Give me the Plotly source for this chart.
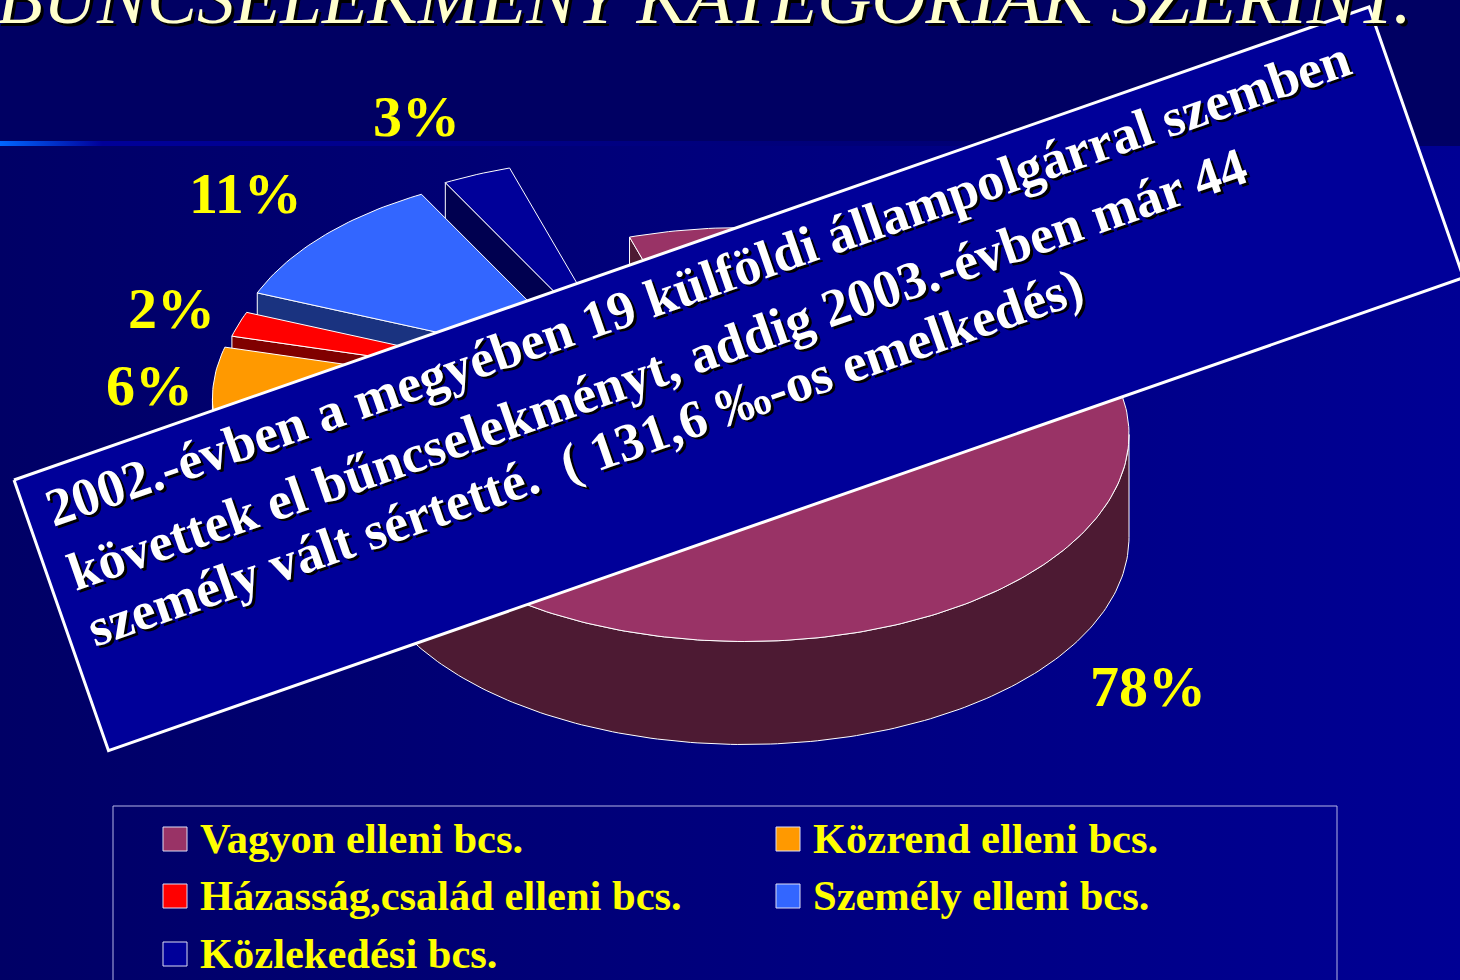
import math
import plotly.graph_objects as go

# ---- data ----
categories = ["Vagyon elleni bcs.", "Közrend elleni bcs.", "Házasság,család elleni bcs.",
              "Személy elleni bcs.", "Közlekedési bcs."]
values = [78, 6, 2, 11, 3]
top_colors = ["#993366", "#FF9900", "#FF0000", "#3366FF", "#000099"]
wall_colors = ["#4D1A33", "#804D00", "#800000", "#1A3380", "#000050"]
title_text = "BŰNCSELEKMÉNY KATEGÓRIÁK SZERINT."
banner_lines = ["2002.-évben a megyében 19 külföldi állampolgárral szemben",
                "követtek el bűncselekményt, addig 2003.-évben már 44",
                "személy vált sértetté.  ( 131,6 ‰-os emelkedés)"]

# ---- pie geometry (pixels, because the axes span the page) ----
CX, CY, RX, RY, DEPTH = 745, 434.5, 384, 207, 103
START_ANGLE = -17.5
explode = [(0, 0), (-162, -36), (-155, -47), (-151.5, -68), (-124, -76)]
radius = [1.0, 0.965, 0.965, 0.945, 0.965]
label_pos = [(1148, 686), (149, 385), (171, 308), (245, 193), (416, 116)]
legend_pos = [(175, 838), (788, 838), (175, 895), (788, 895), (175, 953)]
swatch_pos = [(175, 839), (788, 839), (175, 896), (788, 896), (175, 954)]
FONT = "Liberation Serif"


def rim(theta, ax, ay, r, dy=0):
    t = math.radians(theta)
    return ax + r * RX * math.sin(t), ay - r * RY * math.cos(t) + dy


def poly(pts, fill, line="white", width=1):
    xs = [p[0] for p in pts] + [pts[0][0]]
    ys = [p[1] for p in pts] + [pts[0][1]]
    return go.Scatter(x=xs, y=ys, mode="lines", fill="toself", fillcolor=fill,
                      line=dict(color=line, width=width), hoverinfo="skip", showlegend=False)


fig = go.Figure()

# background
bx = [0, 1460, 1460, 0, 0]
fig.add_trace(go.Scatter(x=bx, y=[146, 146, 980, 980, 146], mode="lines", fill="toself",
                         line=dict(width=0), hoverinfo="skip", showlegend=False,
                         fillgradient=dict(type="horizontal",
                                           colorscale=[[0, "#000066"], [1, "#000094"]])))
fig.add_trace(go.Scatter(x=bx, y=[0, 0, 146, 146, 0], mode="lines", fill="toself",
                         fillcolor="#000063", line=dict(width=0), hoverinfo="skip", showlegend=False))
fig.add_trace(go.Scatter(x=bx, y=[141, 141, 146, 146, 141], mode="lines", fill="toself",
                         line=dict(width=0), hoverinfo="skip", showlegend=False,
                         fillgradient=dict(type="horizontal",
                                           colorscale=[[0, "#0066FF"], [0.07, "#000099"],
                                                       [0.5, "#00007C"], [1, "#000063"]])))

# slices
total = sum(values)
angles = [START_ANGLE]
for v in values:
    angles.append(angles[-1] + 360 * v / total)

for i in [4, 3, 2, 1, 0]:
    a0, a1 = angles[i], angles[i + 1]
    ax, ay = CX + explode[i][0], CY + explode[i][1]
    r = radius[i]
    # cut face below the slice's first radial edge
    p0 = rim(a0, ax, ay, r)
    fig.add_trace(poly([p0, (ax, ay), (ax, ay + DEPTH), (p0[0], p0[1] + DEPTH)], wall_colors[i]))
    # front band of the rim
    lo, hi = max(a0, 90), min(a1, 270)
    if hi > lo:
        n = max(2, int(hi - lo))
        steps = [lo + (hi - lo) * k / n for k in range(n + 1)]
        upper = [rim(t, ax, ay, r) for t in steps]
        lower = [rim(t, ax, ay, r, DEPTH) for t in reversed(steps)]
        fig.add_trace(poly(upper + lower, wall_colors[i]))
    # top face
    n = max(2, int(a1 - a0))
    arc = [rim(a0 + (a1 - a0) * k / n, ax, ay, r) for k in range(n + 1)]
    fig.add_trace(poly([(ax, ay)] + arc, top_colors[i]))

# banner
fig.add_trace(poly([(14, 480), (1369, 7), (1463.5, 277.7), (108.5, 750.7)], "#000099", "white", 3))

# legend frame and swatches
fig.add_trace(go.Scatter(x=[113, 113, 1337, 1337], y=[990, 806, 806, 990], mode="lines",
                         line=dict(color="#B4B4E6", width=1), hoverinfo="skip", showlegend=False))
for i, name in enumerate(categories):
    fig.add_trace(go.Scatter(x=[swatch_pos[i][0]], y=[swatch_pos[i][1]], mode="markers",
                             marker=dict(symbol="square", size=24, color=top_colors[i],
                                         line=dict(color="#DDDDF5", width=1)),
                             hoverinfo="skip", showlegend=False))

ann = []
# title
ann.append(dict(x=704, y=0, yshift=3, text=title_text, showarrow=False, xanchor="center", yanchor="middle",
                font=dict(family=FONT, size=75, color="#FFFFCC", style="italic",
                          shadow="3px 3px 0 #000000")))
# percent labels
for i, v in enumerate(values):
    ann.append(dict(x=label_pos[i][0], y=label_pos[i][1], text=f"{v}%", showarrow=False,
                    xanchor="center", yanchor="middle",
                    font=dict(family=FONT, size=58, color="#FFFF00", weight="bold")))
# legend texts
for i, name in enumerate(categories):
    ann.append(dict(x=legend_pos[i][0] + 23, y=legend_pos[i][1], text=name, showarrow=False,
                    xanchor="left", yanchor="middle",
                    font=dict(family=FONT, size=42.5, color="#FFFF00", weight="bold")))
# banner text
BANNER_ANGLE = -19.24
banner_mid = [(698, 283), (657, 369), (585, 457)]
for (mx, my), line in zip(banner_mid, banner_lines):
    ann.append(dict(x=mx, y=my, text=line, showarrow=False, xanchor="center", yanchor="middle",
                    textangle=BANNER_ANGLE,
                    font=dict(family=FONT, size=53.5, color="#FFFFFF", weight="bold",
                              shadow="2px 3px 0 #000000")))

fig.update_layout(width=1460, height=980, margin=dict(l=0, r=0, t=0, b=0),
                  paper_bgcolor="#000066", plot_bgcolor="#000066", showlegend=False,
                  xaxis=dict(range=[0, 1460], visible=False, fixedrange=True),
                  yaxis=dict(range=[980, 0], visible=False, fixedrange=True),
                  annotations=ann)
fig.write_html("out.html", config=dict(displayModeBar=False),
               post_script="document.body.style.margin='0';document.body.style.overflow='hidden';")
